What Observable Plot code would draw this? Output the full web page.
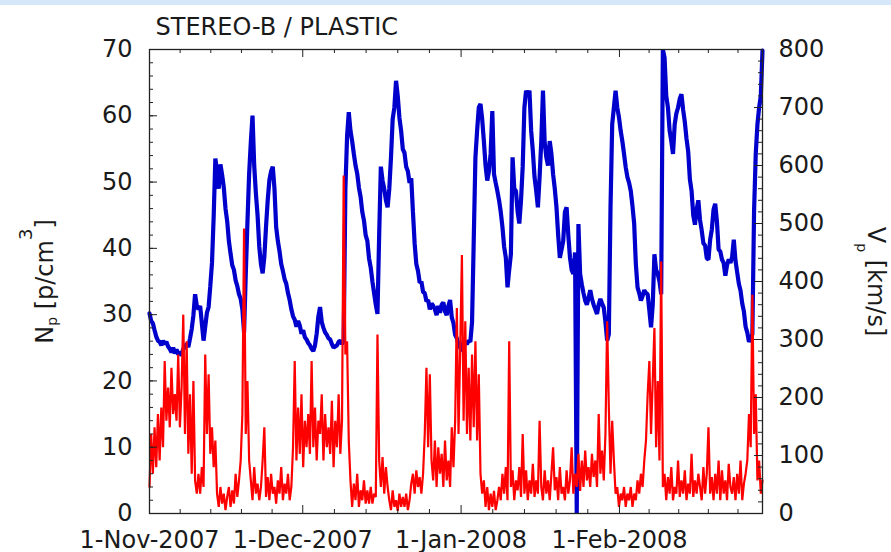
<!DOCTYPE html>
<html><head><meta charset="utf-8">
<script src="https://cdn.jsdelivr.net/npm/d3@7"></script>
<script src="https://cdn.jsdelivr.net/npm/@observablehq/plot@0.6"></script>
<style>
html,body{margin:0;padding:0;background:#fff;}
#band{height:5px;background:#d5e8fa;}
#chart svg{display:block;}
</style></head><body><div id="band"></div><div id="chart"></div>
<script>
// ---- data ----
const title = "STEREO-B / PLASTIC";
const startDate = Date.UTC(2007, 10, 1);
const endDate = Date.UTC(2008, 1, 29);
const monthStarts = [Date.UTC(2007,10,1), Date.UTC(2007,11,1), Date.UTC(2008,0,1), Date.UTC(2008,1,1), Date.UTC(2008,2,1)];
const monthLabels = ["1-Nov-2007", "1-Dec-2007", "1-Jan-2008", "1-Feb-2008"];
const leftTickLabels = [0, 10, 20, 30, 40, 50, 60, 70];
const rightTickLabels = [0, 100, 200, 300, 400, 500, 600, 700, 800];

// proton speed, km/s (blue, right axis), 3 samples per day
const speed = [
345,332,328, 316,305,298, 296,290,298, 292,296,288, 284,278,286, 276,283,274, 279,272,284, 286,293,287,
302,318,342, 378,358,352, 358,328,298, 322,346,356, 392,432,512, 612,588,560, 602,584,562, 526,504,470,
448,428,420, 402,392,378, 370,352,312, 412,502,586, 640,686,600, 552,514,460, 430,414,442, 494,540,575,
590,598,560, 494,470,452, 430,418,404, 396,380,368, 352,340,334, 322,332,324, 310,316,304, 300,294,290,
284,280,290, 310,340,356, 330,320,312, 308,302,300, 292,286,288, 290,296,298, 292,298,560, 650,692,660,
642,620,600, 586,562,546, 520,505,480, 470,440,424, 400,380,360, 344,480,598, 574,560,540, 528,560,614,
680,700,746, 720,682,660, 628,622,598, 590,570,578, 520,466,430, 418,398,400, 382,380,366, 368,352,362,
358,352,342, 358,346,360, 364,348,342, 358,368,338, 328,308,302, 290,286,280, 298,294,292, 298,296,330,
470,614,660, 700,706,680, 642,600,574, 590,620,694, 585,570,556, 540,520,494, 460,441,390, 420,447,614,
560,556,520, 500,540,598, 700,729,720, 729,660,625, 580,556,528, 580,642,729, 640,614,600, 642,620,585,
560,528,480, 441,455,470, 520,528,480, 441,420,413, 450,0,499, 413,395,380, 367,360,372, 385,370,360,
352,344,360, 370,362,355, 330,298,309, 528,671,700, 729,700,683, 660,642,620, 597,580,570, 556,530,500,
430,390,380, 367,375,385, 380,378,350, 321,360,447, 420,413,400, 378,800,786, 720,700,660, 642,620,671,
690,700,715, 723,696,675, 646,624,576, 556,514,498, 524,540,506, 488,466,462, 440,438,472, 490,524,534,
504,455,452, 438,432,410, 428,438,432, 442,472,436, 416,396,384, 362,348,322, 312,296,302, 309,520,620,
671,700,720, 798
];

// proton density, p/cm^3 (red, left axis), 3 samples per day
const density = [
4,12,6, 13,7,15, 8,16,10, 23,14,19, 13,22,15, 18,14,24, 13,19,30, 12,26,9, 18,6,20, 5,3,6,
3,7,4, 24,12,21, 9,13,7, 11,3,1, 4,1.5,3, 0.5,2.5,4, 1,3.5,1.5, 6,2.5,5, 8,15,43, 12,20,8,
5,2,7, 3,4.5,2, 4,8,13, 2.5,5.5,2, 6,3,4, 1.5,5,3, 7,2,4.5, 3,6,2, 4,10,23, 8,16,9,
18,7,14, 10,15,9, 23,10,16, 8,14,12, 18,8,15, 10,13,9, 17,7,14, 10,18,9, 14,51,24, 26,11,5,
1,4.5,2, 6,1,3.5, 2,5,1.5, 3.5,1.5,4, 1.5,3,2.5, 27,8,4, 8.5,3,7, 4,2,0.5, 3.5,1,2, 0.4,3,1,
2.5,1,3, 0.5,2,4.5, 6,3,6.5, 4,5.5,3, 6,12,22, 10,21,8, 5,11,4, 10,6,9, 4,11,5, 8,4,13,
7,14,31, 12,25,39, 14,29,12, 22,11,24, 13,26,11, 21,6,3, 5,1,4, 0.5,3,1, 3.4,0.5,2, 4,2,6,
3,7,2, 26,4,6.5, 2,5,3.5, 7,2.5,12, 3,6.5,2, 5,3,7.5, 2.5,5,3, 14,4,2, 6.5,3,5, 2,6,10,
3.5,5.5,2, 7,3,4, 2,6.5,3, 5,10,3, 6,4,9, 3.4,8,4, 9.5,5,7, 4,9,5.5, 8,4,15, 6,9.5,5,
12,29,16, 6,14,8, 3,4,1, 3,2,4, 1,3,2, 4,1,3, 2,5,3, 6,4,8, 11,18,23, 12,20,28,
10,20,8, 38,4,6, 2,5.5,3, 7,2,4, 3,8,2.5, 5,3,6.5, 2,4.5,3, 9,2.5,5, 3,6,4, 2,7,3,
6,13,3, 5.5,2,6, 3,8,2, 6.5,3,5, 2,7.5,4, 3,5.5,2, 6,3,8, 2,4.5,6, 8,15,10, 33,12,18,
5,8,3, 5
];

// ---- build ----
const vToN = 70 / 800;
const dt = (endDate - startDate) / (speed.length - 1);
const vData = speed.map((v, i) => ({t: new Date(startDate + i * dt), v}));
const nData = density.map((n, i) => ({t: new Date(startDate + i * dt), n}));

const xMajor = monthStarts.slice(0, 4).map(d => new Date(d));
const xMinor = [];
for (let m = 0; m < 4; m++) {
  const len = monthStarts[m + 1] - monthStarts[m];
  for (let k = 1; k < 5; k++) {
    const t = monthStarts[m] + k * len / 5;
    if (t < endDate) xMinor.push(new Date(t));
  }
}
const leftMinor = d3.range(0, 70.001, 2);
const leftMajor = leftTickLabels;
const rightMinor = d3.range(0, 800.001, 20).map(v => v * vToN);
const rightMajor = rightTickLabels.map(v => v * vToN);

const W = 891, H = 547, mL = 149, mR = 129, mT = 44, mB = 39;
const pw = W - mL - mR, ph = H - mT - mB;
const tickColor = "#222";
const LEFT_LABEL = "Np [p/cm3]", RIGHT_LABEL = "Vp [km/s]";

const chart = Plot.plot({
  width: W, height: H,
  marginLeft: mL, marginRight: mR, marginTop: mT, marginBottom: mB,
  style: {fontFamily: "DejaVu Sans", fontSize: "24px", color: "#1a1a1a", background: "#fff", overflow: "visible"},
  x: {type: "utc", domain: [new Date(startDate), new Date(endDate)]},
  y: {domain: [0, 70]},
  marks: [
    Plot.line(vData, {x: "t", y: d => d.v * vToN, stroke: "#0000cc", strokeWidth: 4.2, strokeLinejoin: "miter"}),
    Plot.line(nData, {x: "t", y: "n", stroke: "#ff0000", strokeWidth: 2.2, strokeLinejoin: "miter"}),
    // inward ticks
    Plot.ruleY(leftMinor, {insetRight: pw - 4, stroke: tickColor}),
    Plot.ruleY(leftMajor, {insetRight: pw - 8, stroke: tickColor}),
    Plot.ruleY(rightMinor, {insetLeft: pw - 4, stroke: tickColor}),
    Plot.ruleY(rightMajor, {insetLeft: pw - 8, stroke: tickColor}),
    Plot.ruleX(xMinor, {insetTop: ph - 4, stroke: tickColor}),
    Plot.ruleX(xMinor, {insetBottom: ph - 4, stroke: tickColor}),
    Plot.ruleX(xMajor, {insetTop: ph - 8, stroke: tickColor}),
    Plot.ruleX(xMajor, {insetBottom: ph - 8, stroke: tickColor}),
    Plot.frame({stroke: tickColor, strokeWidth: 1.3}),
    // tick labels
    Plot.axisY(leftTickLabels, {anchor: "left", tickSize: 0, tickPadding: 17, label: null}),
    Plot.axisY(rightTickLabels.map(v => v * vToN), {anchor: "right", tickSize: 0, tickPadding: 16, label: null,
      tickFormat: d => String(Math.round(d / vToN))}),
    Plot.axisX(xMajor, {anchor: "bottom", tickSize: 0, tickPadding: 17, label: null,
      tickFormat: d => monthLabels[xMajor.findIndex(m => +m === +d)]}),
    // title and axis labels
    Plot.text([title], {frameAnchor: "top-left", textAnchor: "start", lineAnchor: "middle", dx: 6, dy: -22}),
    Plot.text([LEFT_LABEL], {frameAnchor: "left", rotate: -90, textAnchor: "middle", lineAnchor: "middle", dx: -104}),
    Plot.text([RIGHT_LABEL], {frameAnchor: "right", rotate: 90, textAnchor: "middle", lineAnchor: "middle", dx: 113})
  ]
});

// sub/superscripts for the axis labels
d3.select(chart).selectAll("text").each(function () {
  const t = d3.select(this);
  const s = this.textContent;
  if (s === LEFT_LABEL) {
    t.text(null);
    t.append("tspan").text("N");
    t.append("tspan").attr("dy", 4).attr("font-size", 14).text("p");
    t.append("tspan").attr("dy", -4).text(" [p/cm");
    t.append("tspan").attr("dy", -21).attr("font-size", 18).text("3");
    t.append("tspan").attr("dy", 21).text("]");
  } else if (s === RIGHT_LABEL) {
    t.text(null);
    t.append("tspan").text("V");
    t.append("tspan").attr("dy", 11).attr("font-size", 14).text("p");
    t.append("tspan").attr("dy", -11).text(" [km/s]");
  }
});

document.getElementById("chart").appendChild(chart);
</script></body></html>
